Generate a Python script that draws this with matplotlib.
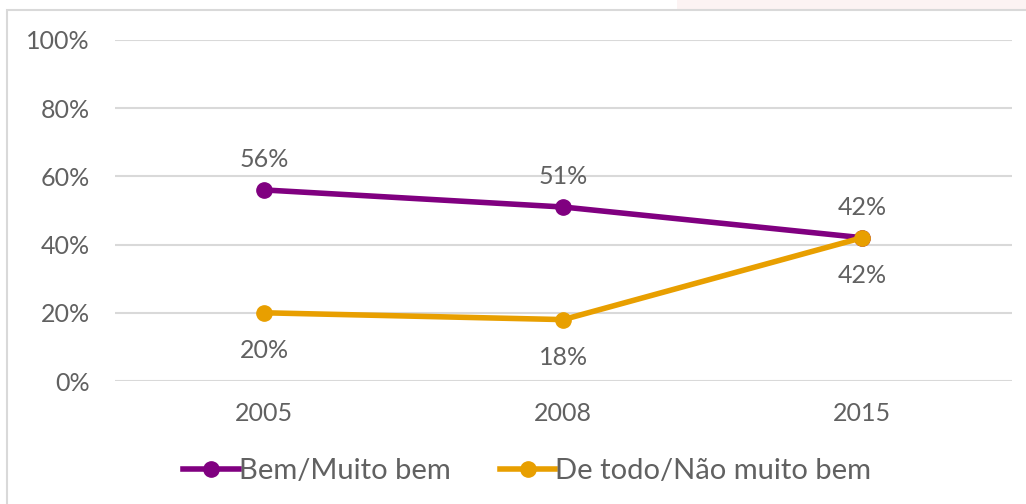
import matplotlib.pyplot as plt
from matplotlib.patches import Rectangle

plt.rcParams['font.family'] = ['Lato', 'DejaVu Sans']

years = ['2005', '2008', '2015']
bem = [56, 51, 42]
nao_bem = [20, 18, 42]
y_ticks = [0, 20, 40, 60, 80, 100]

purple = '#800080'
orange = '#E89F00'
gray_text = '#616161'

fig = plt.figure(figsize=(10.26, 5.04), dpi=100)

# faint background strip above the chart box
fig.patches.append(Rectangle((0.66, 0.95), 0.34, 0.05, transform=fig.transFigure,
                             facecolor='#FCF3F3', edgecolor='none', zorder=-2))
# chart box border
fig.patches.append(Rectangle((0.007, -0.05), 1.1, 1.03, transform=fig.transFigure,
                             facecolor='white', edgecolor='#D9D9D9', linewidth=1.5, zorder=-1))

ax = fig.add_axes([0.112, 0.244, 0.874, 0.677])
ax.set_facecolor('none')

x = list(range(len(years)))
ax.plot(x, bem, color=purple, linewidth=4, marker='o', markersize=11,
        label='Bem/Muito bem', zorder=3)
ax.plot(x, nao_bem, color=orange, linewidth=4, marker='o', markersize=11,
        label='De todo/Não muito bem', zorder=4)

for i, v in enumerate(bem):
    ax.annotate(f'{v}%', (i, v), xytext=(0, 22), textcoords='offset points',
                ha='center', va='center', fontsize=18, color=gray_text)
for i, v in enumerate(nao_bem):
    ax.annotate(f'{v}%', (i, v), xytext=(0, -27), textcoords='offset points',
                ha='center', va='center', fontsize=18, color=gray_text)

ax.set_xlim(-0.5, 2.5)
ax.set_ylim(0, 100)
ax.set_xticks(x)
ax.set_xticklabels(years)
ax.set_yticks(y_ticks)
ax.set_yticklabels([f'{t}%' for t in y_ticks])
ax.tick_params(axis='both', length=0, labelsize=18, colors=gray_text)
ax.tick_params(axis='x', pad=15)
ax.tick_params(axis='y', pad=18)
ax.grid(axis='y', color='#D9D9D9', linewidth=1.5)
ax.set_axisbelow(True)
for s in ax.spines.values():
    s.set_visible(False)

leg = ax.legend(loc='center', bbox_to_anchor=(0.46, -0.265), ncol=2, frameon=False,
                fontsize=21, handlelength=1.9, handletextpad=0.0, columnspacing=1.7)
for t in leg.get_texts():
    t.set_color(gray_text)

plt.savefig('out.png', dpi=100)
